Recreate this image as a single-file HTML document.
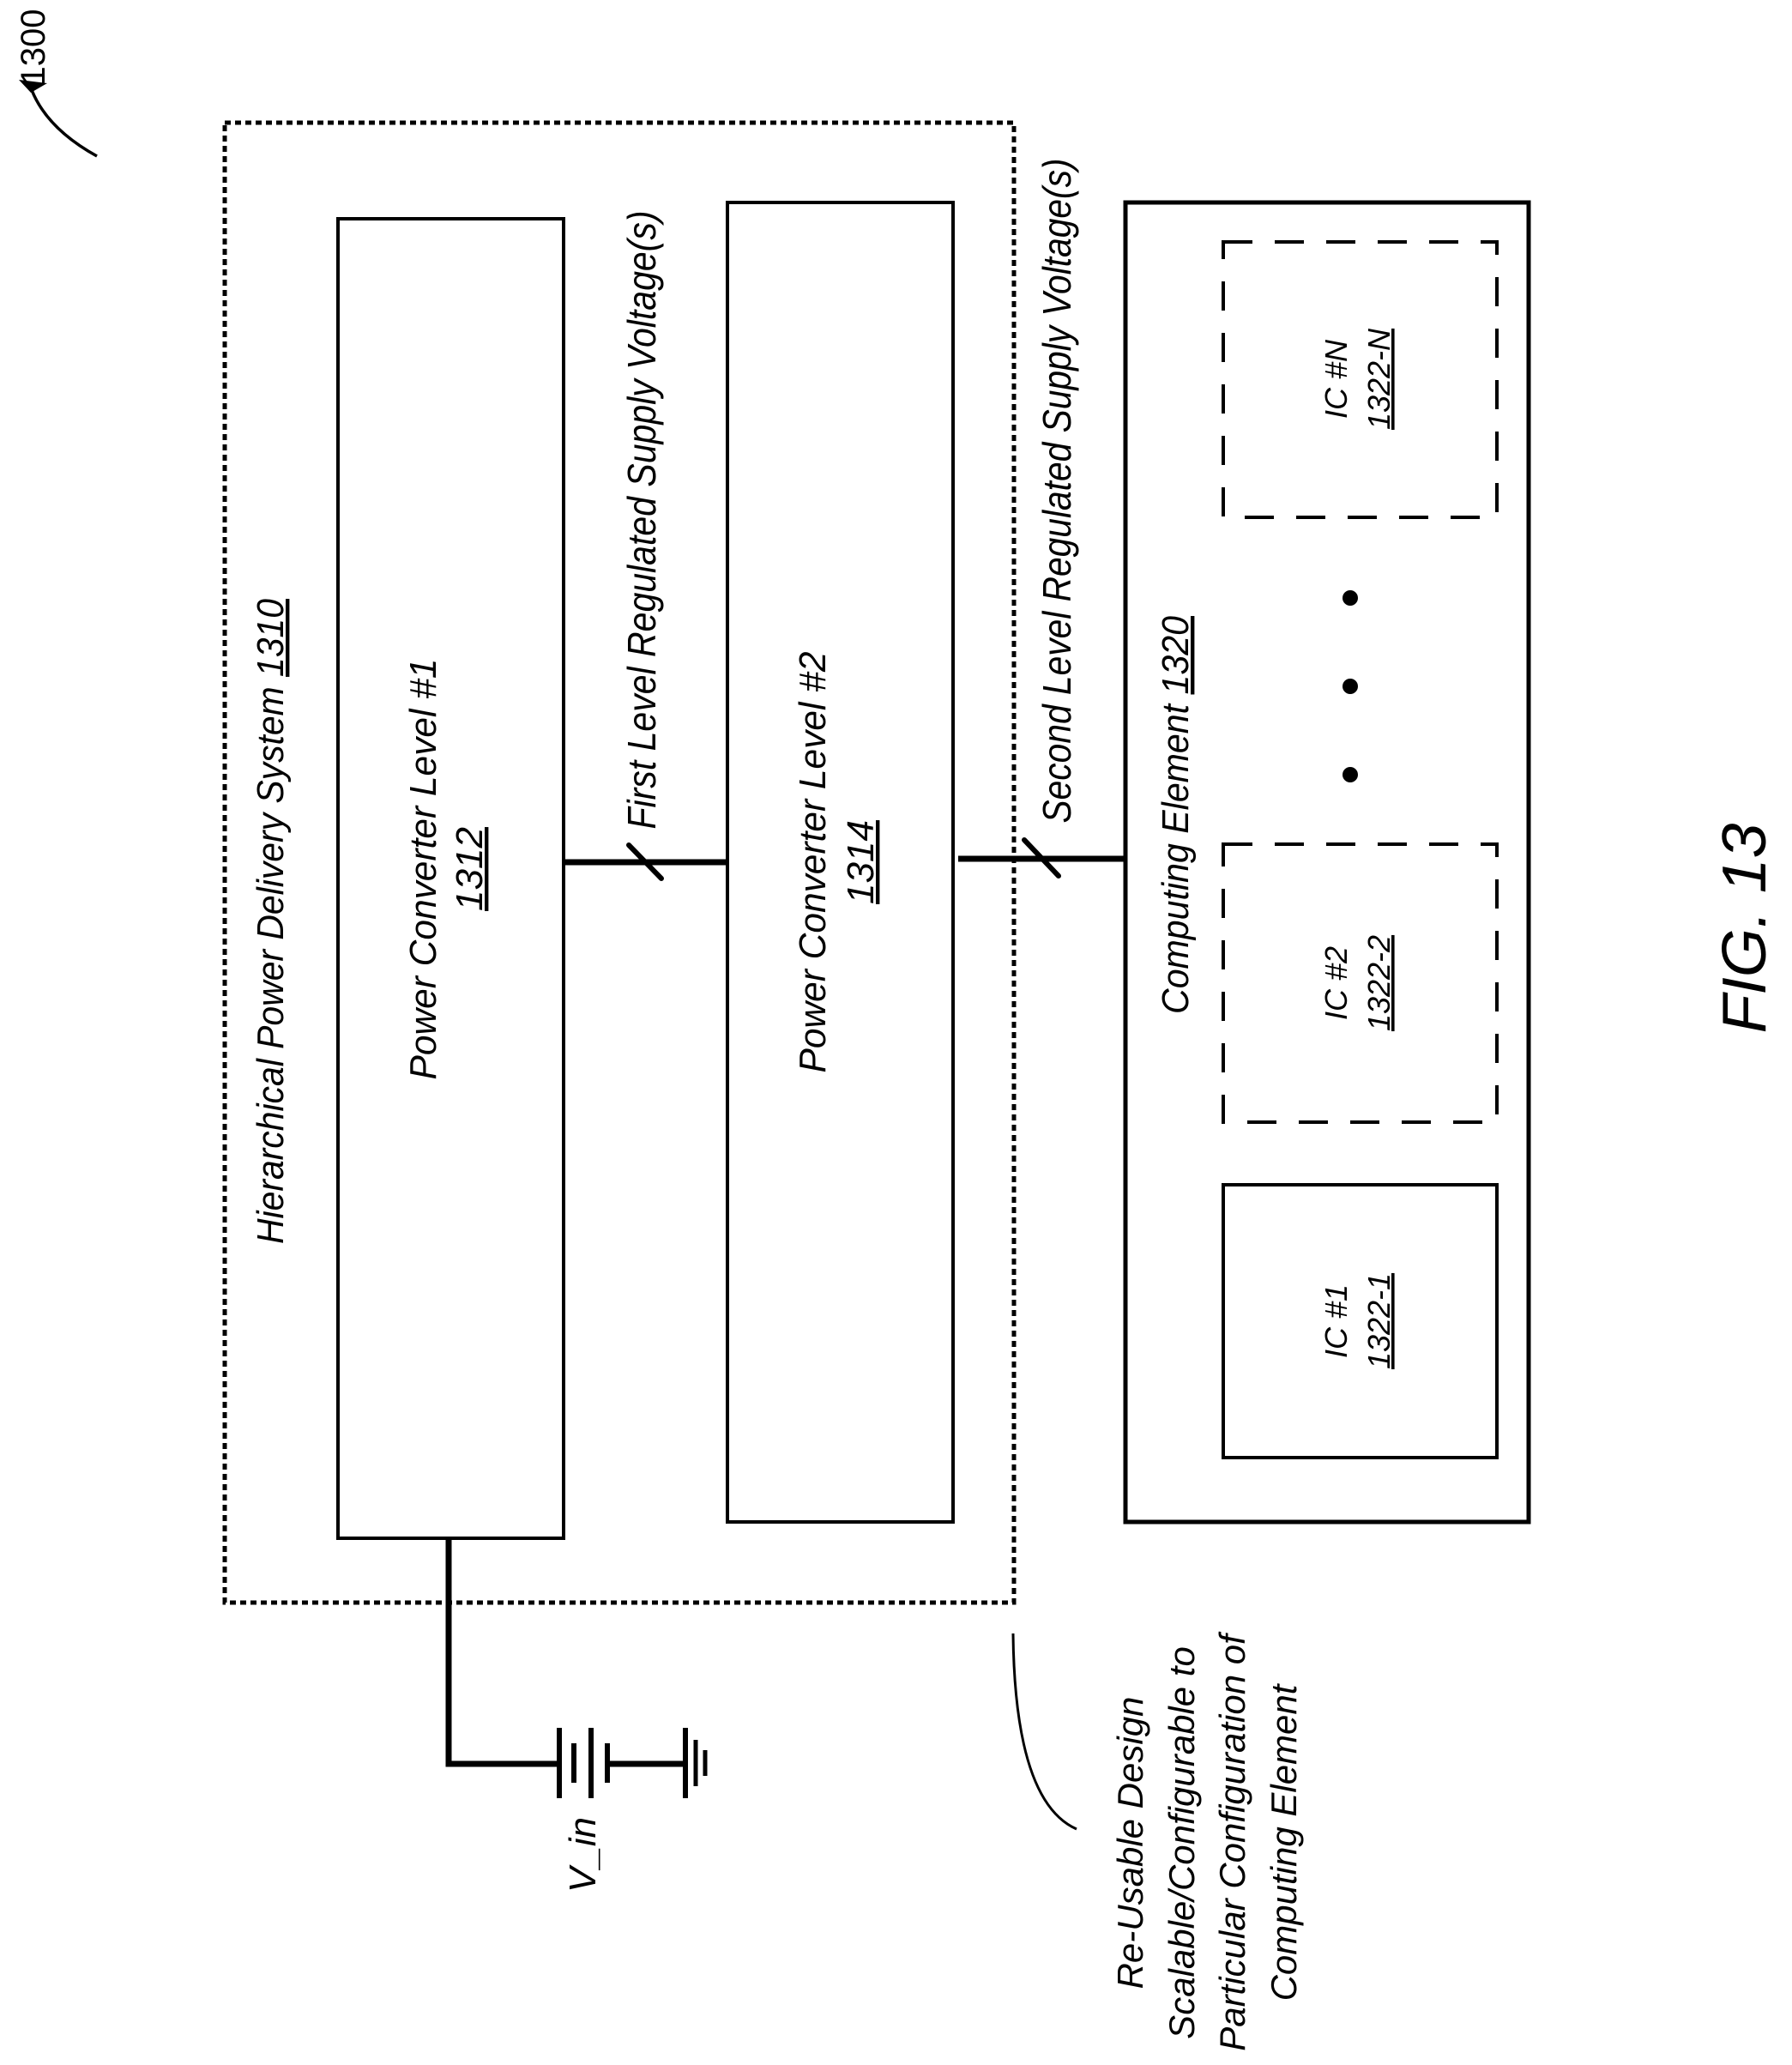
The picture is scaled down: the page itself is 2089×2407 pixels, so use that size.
<!DOCTYPE html>
<html><head><meta charset="utf-8"><style>
html,body{margin:0;padding:0;background:#fff;}
svg{display:block;}
text{font-family:"Liberation Sans Narrow","Liberation Sans",sans-serif;font-style:italic;fill:#000;}
.w{font-family:"Liberation Sans",sans-serif;}
</style></head><body>
<svg width="2089" height="2407" viewBox="0 0 2089 2407" xmlns="http://www.w3.org/2000/svg">
<!-- 1300 label -->
<text class="w" transform="translate(52,55) rotate(-90)" text-anchor="middle" font-size="40" style="font-style:normal">1300</text>
<path d="M113,182 Q55,150 37,105" fill="none" stroke="#000" stroke-width="3.5"/>
<path d="M22,93 L55,97 L36,108 Z" fill="#000"/>

<!-- dotted outer box -->
<rect x="262" y="143" width="920" height="1725" fill="none" stroke="#000" stroke-width="5" stroke-dasharray="7 5"/>

<!-- boxes -->
<rect x="394" y="255" width="263" height="1538" fill="none" stroke="#000" stroke-width="4"/>
<rect x="848" y="236" width="263" height="1538" fill="none" stroke="#000" stroke-width="4"/>
<rect x="1312" y="236" width="470" height="1538" fill="none" stroke="#000" stroke-width="5"/>
<rect x="1426" y="282" width="319" height="321" fill="none" stroke="#000" stroke-width="4" stroke-dasharray="34 26"/>
<rect x="1426" y="984" width="319" height="324" fill="none" stroke="#000" stroke-width="4" stroke-dasharray="34 26"/>
<rect x="1426" y="1381" width="319" height="318" fill="none" stroke="#000" stroke-width="4"/>

<circle cx="1574" cy="697" r="9"/><circle cx="1574" cy="800" r="9"/><circle cx="1574" cy="903" r="9"/>

<!-- connectors -->
<line x1="657" y1="1005" x2="848" y2="1005" stroke="#000" stroke-width="7"/>
<line x1="733" y1="985" x2="771" y2="1024" stroke="#000" stroke-width="6" stroke-linecap="round"/>
<line x1="1117" y1="1001" x2="1312" y2="1001" stroke="#000" stroke-width="7"/>
<line x1="1194" y1="979" x2="1234" y2="1021" stroke="#000" stroke-width="6" stroke-linecap="round"/>

<!-- V_in -->
<polyline points="523,1793 523,2056 652,2056" fill="none" stroke="#000" stroke-width="7"/>
<line x1="652" y1="2014" x2="652" y2="2096" stroke="#000" stroke-width="6"/>
<line x1="669" y1="2032" x2="669" y2="2078" stroke="#000" stroke-width="6"/>
<line x1="689" y1="2014" x2="689" y2="2096" stroke="#000" stroke-width="6"/>
<line x1="708" y1="2032" x2="708" y2="2078" stroke="#000" stroke-width="6"/>
<line x1="708" y1="2056" x2="799" y2="2056" stroke="#000" stroke-width="7"/>
<line x1="799" y1="2014" x2="799" y2="2096" stroke="#000" stroke-width="6"/>
<line x1="811" y1="2028" x2="811" y2="2082" stroke="#000" stroke-width="5"/>
<line x1="822" y1="2040" x2="822" y2="2070" stroke="#000" stroke-width="5"/>
<text class="w" transform="translate(694,2162) rotate(-90)" text-anchor="middle" font-size="44">V_in</text>

<!-- annotation leader -->
<path d="M1181,1904 Q1183,2100 1255,2132" fill="none" stroke="#000" stroke-width="3"/>
<g class="w" font-size="42" text-anchor="middle">
<text class="w" transform="translate(1332,2148) rotate(-90)">Re-Usable Design</text>
<text class="w" transform="translate(1392,2148) rotate(-90)">Scalable/Configurable to</text>
<text class="w" transform="translate(1451,2148) rotate(-90)">Particular Configuration of</text>
<text class="w" transform="translate(1511,2148) rotate(-90)">Computing Element</text>
</g>

<!-- rotated labels -->
<text transform="translate(330,1074) rotate(-90)" text-anchor="middle" font-size="44" textLength="752" lengthAdjust="spacingAndGlyphs">Hierarchical Power Delivery System <tspan text-decoration="underline">1310</tspan></text>
<text transform="translate(508,1013) rotate(-90)" text-anchor="middle" font-size="44" textLength="491" lengthAdjust="spacingAndGlyphs">Power Converter Level #1</text>
<text transform="translate(562,1013) rotate(-90)" text-anchor="middle" font-size="44" text-decoration="underline">1312</text>
<text transform="translate(962,1005) rotate(-90)" text-anchor="middle" font-size="44" textLength="491" lengthAdjust="spacingAndGlyphs">Power Converter Level #2</text>
<text transform="translate(1018,1005) rotate(-90)" text-anchor="middle" font-size="44" text-decoration="underline">1314</text>
<text transform="translate(764,606) rotate(-90)" text-anchor="middle" font-size="46" textLength="721" lengthAdjust="spacingAndGlyphs">First Level Regulated Supply Voltage(s)</text>
<text transform="translate(1248,572) rotate(-90)" text-anchor="middle" font-size="46" textLength="775" lengthAdjust="spacingAndGlyphs">Second Level Regulated Supply Voltage(s)</text>
<text transform="translate(1385,950) rotate(-90)" text-anchor="middle" font-size="44" textLength="464" lengthAdjust="spacingAndGlyphs">Computing Element <tspan text-decoration="underline">1320</tspan></text>

<g font-size="36" text-anchor="middle">
<text transform="translate(1570,442) rotate(-90)">IC #N</text>
<text transform="translate(1620,442) rotate(-90)" text-decoration="underline">1322-N</text>
<text transform="translate(1570,1146) rotate(-90)">IC #2</text>
<text transform="translate(1620,1146) rotate(-90)" text-decoration="underline">1322-2</text>
<text transform="translate(1570,1540) rotate(-90)">IC #1</text>
<text transform="translate(1620,1540) rotate(-90)" text-decoration="underline">1322-1</text>
</g>

<text class="w" transform="translate(2058,1082) rotate(-90)" text-anchor="middle" font-size="72" textLength="245" lengthAdjust="spacingAndGlyphs">FIG. 13</text>
</svg>
</body></html>
